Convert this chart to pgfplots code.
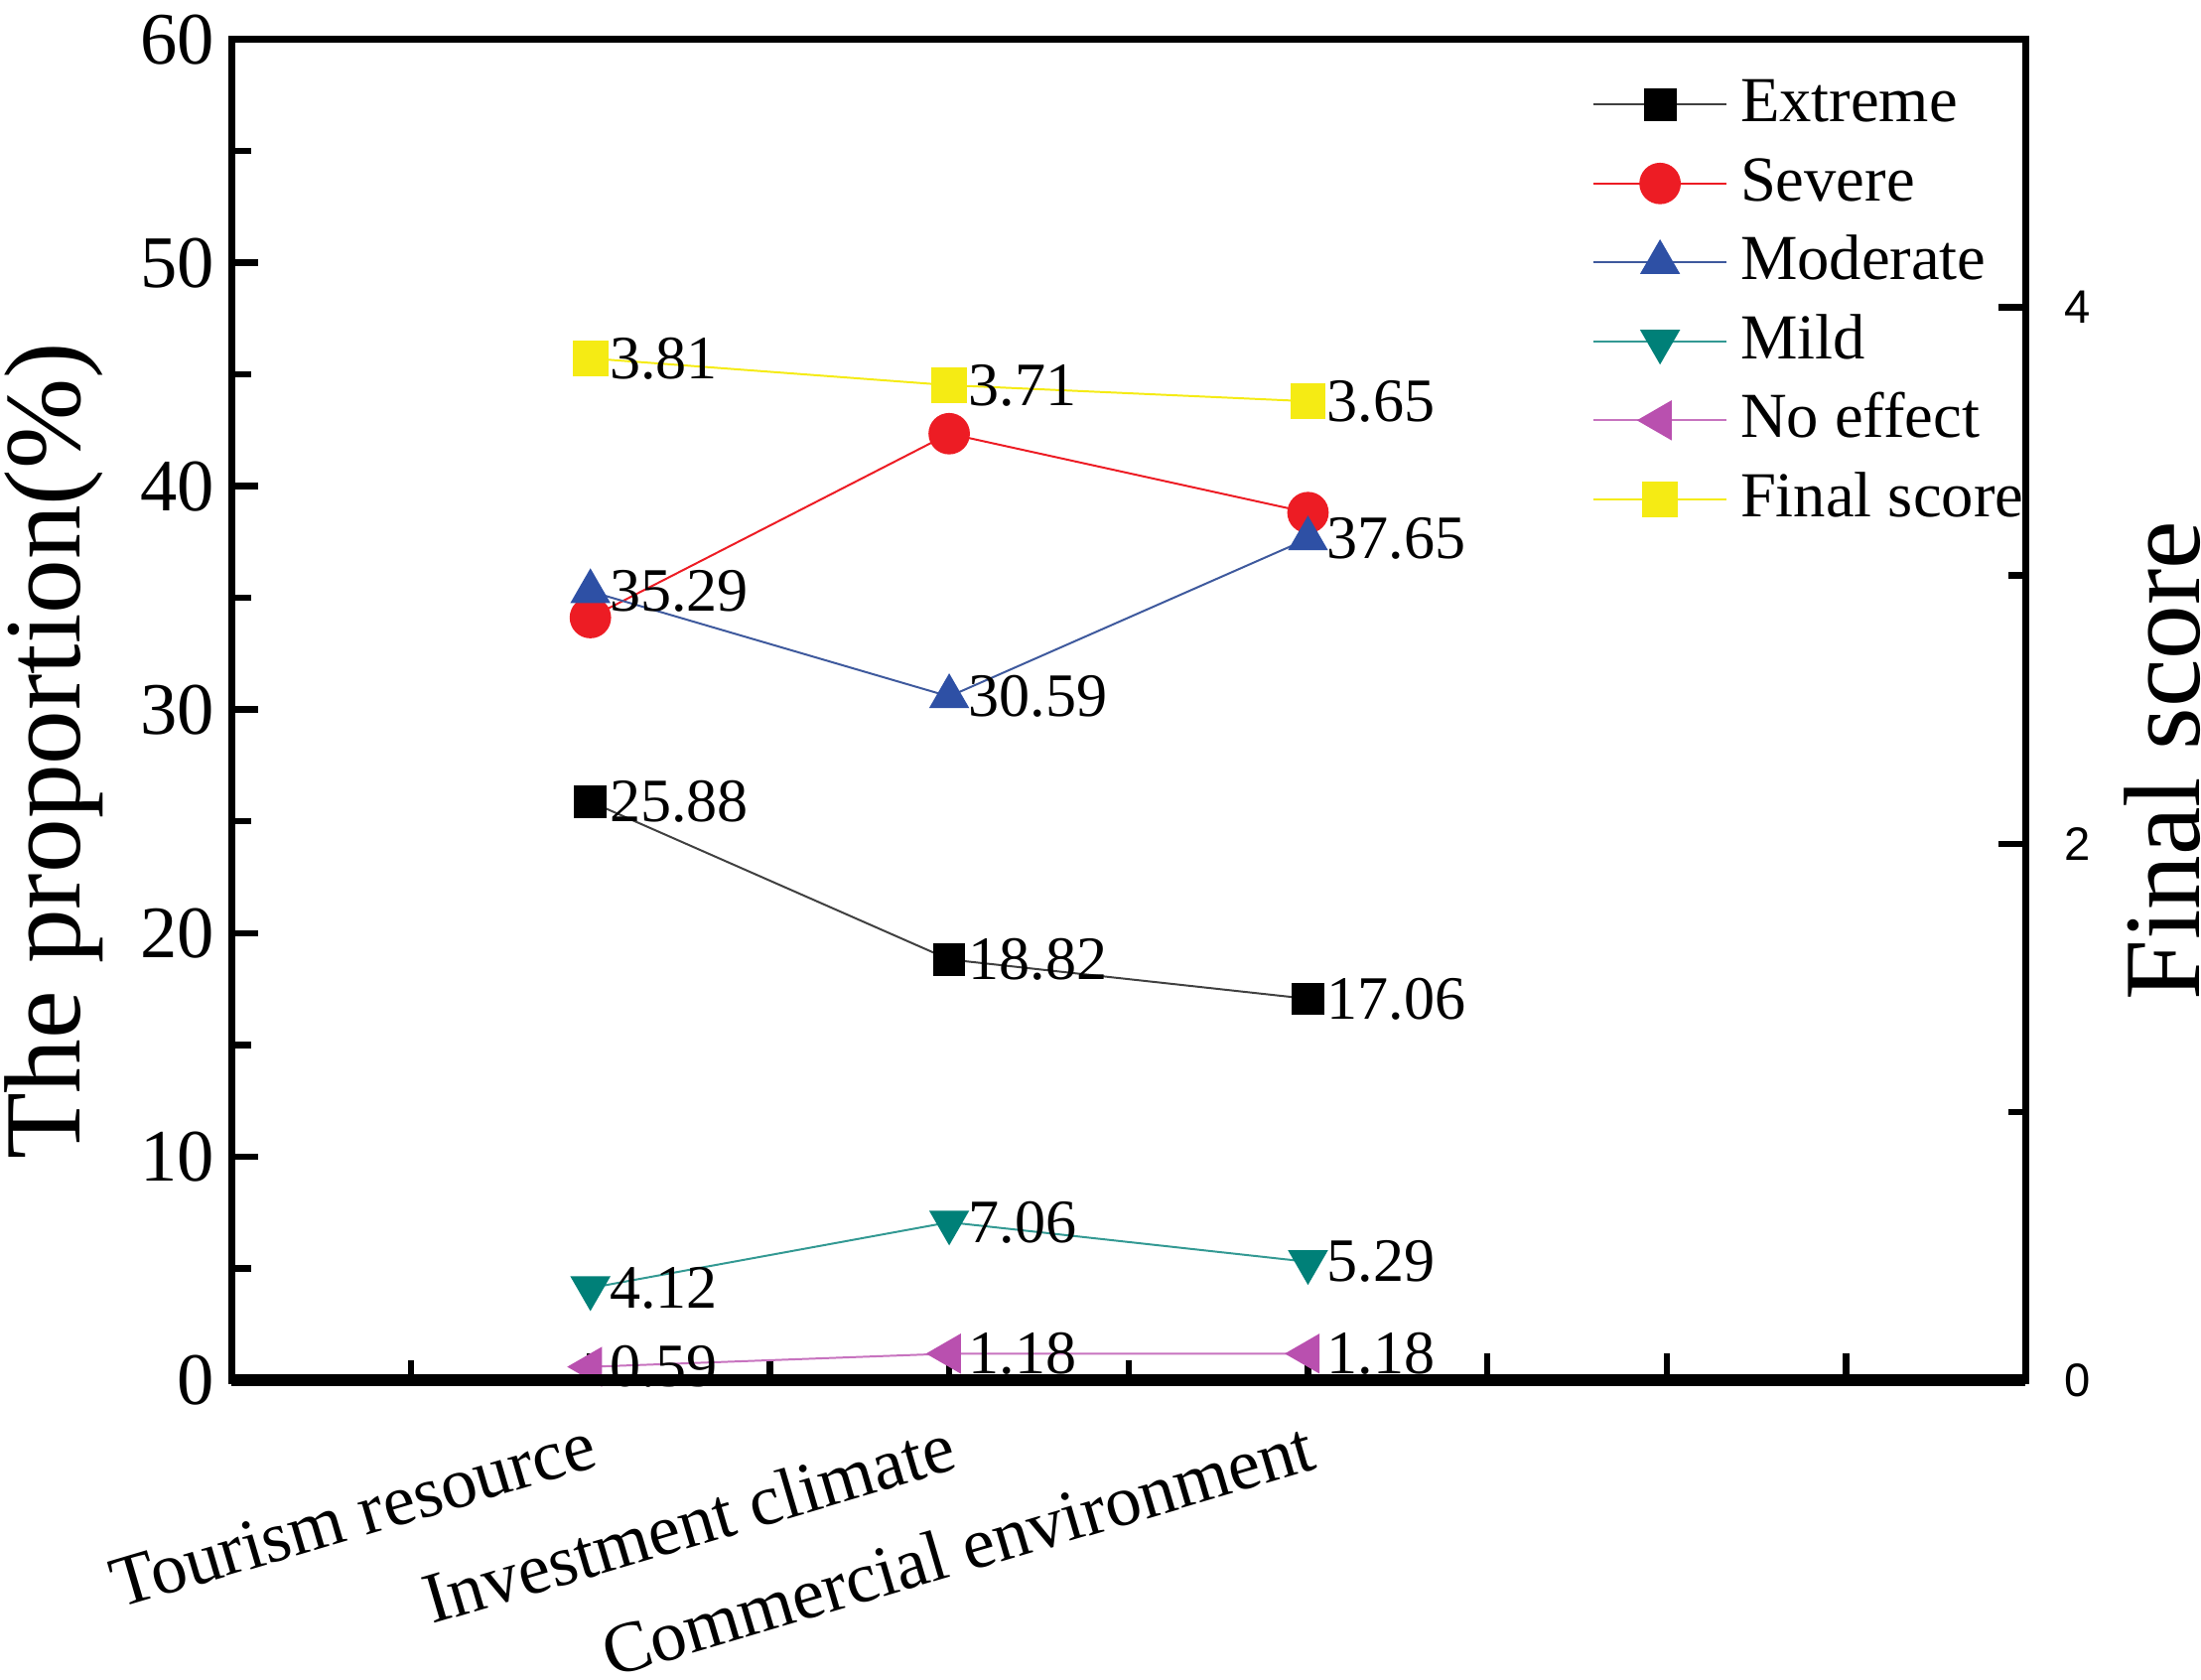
\documentclass[border=0pt]{standalone}
\usepackage{fontspec}
\setmainfont{Liberation Serif}
\newfontfamily\sansf{Liberation Sans}
\usepackage{pgfplots}
\pgfplotsset{compat=1.18}
\definecolor{sevred}{RGB}{237,28,36}
\definecolor{modblue}{RGB}{46,80,165}
\definecolor{mildteal}{RGB}{0,128,120}
\definecolor{nomag}{RGB}{185,80,175}
\definecolor{fsyellow}{RGB}{245,235,20}
\begin{document}
\begin{tikzpicture}
\begin{axis}[name=ax1,
  width=127.8mm, height=95.5mm, scale only axis,
  xmin=0, xmax=5, ymin=0, ymax=60,
  xtick={1,2,3,3.5,4,4.5},
  xticklabels={Tourism resource,Investment climate,Commercial environment,,,},
  minor xtick={0.5,1.5,2.5},
  ytick={0,10,...,60}, minor ytick={5,15,...,55},
  tick align=inside, xtick pos=bottom, ytick pos=left,
  major tick length=1.9mm, minor tick length=1.4mm,
  every tick/.style={black, line width=1.3pt},
  axis line style={line width=1.5pt},
  /pgf/number format/assume math mode=true,
  yticklabel style={font=\fontsize{15}{18}\selectfont},
  xticklabel style={font=\fontsize{14.6}{18}\selectfont, rotate=16.5, anchor=north east, inner sep=1mm, yshift=-1.6mm},
  ylabel={The proportion(\%)},
  ylabel style={font=\fontsize{22}{26}\selectfont, at={(axis description cs:-0.099,0.469)}, anchor=center},
  legend style={draw=none, fill=none, at={(axis description cs:0.758,0.976)}, anchor=north west,
    font=\fontsize{13}{15}\selectfont, inner sep=0pt, row sep=3pt,
    nodes={inner xsep=0.9mm, inner ysep=0.5pt, text height=9.5pt, text depth=2.5pt}},
  legend cell align=left,
  legend image code/.code={\draw[mark repeat=2,mark phase=2] plot coordinates {(0mm,0mm)(4.75mm,0mm)(9.5mm,0mm)};},
  every node near coord/.append style={text=black, anchor=west, inner sep=0pt, xshift=1.3mm, font=\fontsize{12.5}{15}\selectfont},
]
\addplot[color=black!75, line width=0.4pt, mark=square*, mark size=3.1pt, mark options={fill=black, draw=black},
  nodes near coords, point meta=explicit symbolic]
  coordinates {(1,25.88)[25.88] (2,18.82)[18.82] (3,17.06)[17.06]};
\addlegendentry{Extreme}
\addplot[color=sevred, line width=0.4pt, mark=*, mark size=4pt, mark options={fill=sevred, draw=sevred}]
  coordinates {(1,34.12) (2,42.35) (3,38.82)};
\addlegendentry{Severe}
\addplot[color=modblue!80!gray, line width=0.4pt, mark=triangle*, mark size=4.3pt, mark options={fill=modblue, draw=modblue},
  nodes near coords, point meta=explicit symbolic]
  coordinates {(1,35.29)[35.29] (2,30.59)[30.59] (3,37.65)[37.65]};
\addlegendentry{Moderate}
\addplot[color=mildteal!80, line width=0.4pt, mark=triangle*, mark size=4.3pt, mark options={fill=mildteal, draw=mildteal, rotate=180},
  nodes near coords, point meta=explicit symbolic]
  coordinates {(1,4.12)[4.12] (2,7.06)[7.06] (3,5.29)[5.29]};
\addlegendentry{Mild}
\addplot[color=nomag!80, line width=0.4pt, mark=triangle*, mark size=4.3pt, mark options={fill=nomag, draw=nomag, rotate=90},
  nodes near coords, point meta=explicit symbolic]
  coordinates {(1,0.59)[0.59] (2,1.18)[1.18] (3,1.18)[1.18]};
\addlegendentry{No effect}
\addlegendimage{color=fsyellow, line width=0.4pt, mark=square*, mark size=3.4pt, mark options={fill=fsyellow, draw=fsyellow}}
\addlegendentry{Final score}
\end{axis}
\begin{axis}[
  at={(ax1.south west)}, anchor=south west,
  width=127.8mm, height=95.5mm, scale only axis,
  xmin=0, xmax=5, ymin=0, ymax=5,
  axis x line*=bottom, xtick=\empty, axis y line*=right,
  x axis line style={line width=2.4pt, -},
  y axis line style={line width=1.5pt, -},
  ytick={0,2,4}, minor ytick={1,3},
  tick align=inside,
  major tick length=1.9mm, minor tick length=1.2mm,
  every tick/.style={black, line width=1.3pt},
  /pgf/number format/assume math mode=true,
  yticklabel style={font=\sansf\fontsize{9.5}{11}\selectfont, xshift=1.5mm},
  ylabel={Final score},
  ylabel style={font=\fontsize{22}{26}\selectfont, at={(axis description cs:1.076,0.462)}, anchor=center},
  every node near coord/.append style={text=black, anchor=west, inner sep=0pt, xshift=1.3mm, font=\fontsize{12.5}{15}\selectfont},
]
\addplot[color=fsyellow, line width=0.4pt, mark=square*, mark size=3.4pt, mark options={fill=fsyellow, draw=fsyellow},
  nodes near coords, point meta=explicit symbolic]
  coordinates {(1,3.81)[3.81] (2,3.71)[3.71] (3,3.65)[3.65]};
\end{axis}
\pgfresetboundingbox
\path ([shift={(-16.5mm,-21.3mm)}]ax1.south west) rectangle ([shift={(12.5mm,2.8mm)}]ax1.north east);
\end{tikzpicture}
\end{document}
